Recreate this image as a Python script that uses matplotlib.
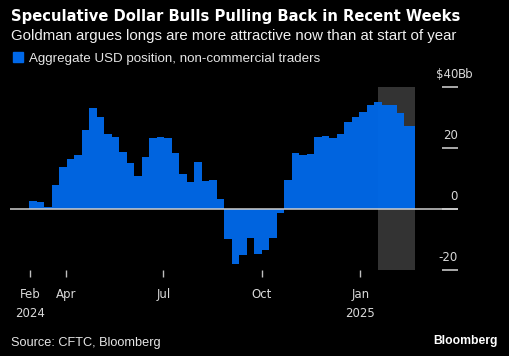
import matplotlib
matplotlib.use("Agg")
import matplotlib.pyplot as plt
import matplotlib.transforms as mtransforms
import pandas as pd

# ---------------- data ----------------
title = "Speculative Dollar Bulls Pulling Back in Recent Weeks"
subtitle = "Goldman argues longs are more attractive now than at start of year"
legend_label = "Aggregate USD position, non-commercial traders"
source_text = "Source: CFTC, Bloomberg"
brand_text = "Bloomberg"

week_start = "2024-02-27"
series_end = "2025-02-21"
usd_position = [2.6, 2.4, 0.7, 7.8, 13.9, 16.3, 17.8, 25.9, 33.0, 30.1,
                24.7, 23.7, 18.7, 15.1, 10.8, 17.2, 23.4, 23.6, 23.2, 18.3,
                11.6, 8.9, 15.3, 9.1, 9.4, 3.4, -9.8, -18.1, -15.1, -9.5,
                -14.8, -13.4, -9.4, -1.4, 9.5, 18.3, 17.7, 18.0, 23.6, 23.8,
                23.3, 24.6, 28.4, 30.2, 31.8, 34.1, 35.0, 34.1, 34.0, 31.6,
                27.2]
shade_start = "2025-01-17"
shade_end = "2025-02-21"

x_tick_dates = ["2024-02-28", "2024-04-01", "2024-07-01", "2024-10-01", "2025-01-01"]
x_tick_labels = ["Feb\n2024", "Apr", "Jul", "Oct", "Jan\n2025"]
y_ticks = [-20, 0, 20, 40]
y_tick_labels = ["-20", "0", "20", "$40"]
y_unit = "Bb"
x_range = ["2024-02-09", "2025-04-02"]

# ---------------- style ----------------
W, H = 510, 356
BG = "#000000"
BLUE = "#0068E8"
SHADE = "#333333"
TEXT = "#ffffff"
TICKTXT = "#d9d9d9"

fig = plt.figure(figsize=(W / 100, H / 100), dpi=100, facecolor=BG)

def fx(x):
    return x / W

def fy(y):
    return 1 - y / H

ax_left, ax_right, ax_top, ax_bottom = 10, 458, 87, 270
ax = fig.add_axes([fx(ax_left), fy(ax_bottom), (ax_right - ax_left) / W,
                   (ax_bottom - ax_top) / H])
ax.set_facecolor(BG)

dates = list(pd.date_range(week_start, periods=len(usd_position), freq="7D"))
edges = dates + [pd.Timestamp(series_end)]
vals = usd_position + [usd_position[-1]]

ax.axvspan(pd.Timestamp(shade_start), pd.Timestamp(shade_end), color=SHADE,
           zorder=1, lw=0)
ax.fill_between(edges, vals, 0, step="post", color=BLUE, lw=0, zorder=2,
                alpha=0.97)
ax.axhline(0, color="#cfcfcf", lw=1.1, zorder=3)

ax.set_xlim(pd.Timestamp(x_range[0]), pd.Timestamp(x_range[1]))
ax.set_ylim(y_ticks[0], y_ticks[-1])
for s in ax.spines.values():
    s.set_visible(False)

# x ticks
ax.set_xticks([pd.Timestamp(d) for d in x_tick_dates])
ax.set_xticklabels(x_tick_labels, color=TICKTXT, fontsize=8.5,
                   family="DejaVu Sans", linespacing=1.55)
ax.tick_params(axis="x", direction="out", length=5, width=1, color="#bfbfbf",
               pad=8)

# y ticks (right, inward, labels above the tick)
ax.yaxis.tick_right()
ax.set_yticks(y_ticks)
ax.set_yticklabels([])
ax.tick_params(axis="y", direction="in", length=11.5, width=1.4,
               color="#aaaaaa", right=True, left=False)
trans = mtransforms.blended_transform_factory(ax.transAxes, ax.transData)
offset = mtransforms.ScaledTranslation(0, 9 / 100, fig.dpi_scale_trans)
for v, lab in zip(y_ticks, y_tick_labels):
    ax.text(1.0, v, lab, transform=trans + offset, ha="right", va="baseline",
            color=TICKTXT, fontsize=8.5, family="DejaVu Sans")
ax.text(1.0, y_ticks[-1], y_unit, transform=trans + offset, ha="left",
        va="baseline", color=TICKTXT, fontsize=8.5, family="DejaVu Sans")

# ---------------- header / footer ----------------
renderer = fig.canvas.get_renderer()

def fit_text(x, y, s, target_w, size, **kw):
    t = fig.text(fx(x), fy(y), s, va="baseline", size=size, **kw)
    w = t.get_window_extent(renderer).width
    t.set_fontsize(size * target_w / w)
    return t

fit_text(11, 21, title, 448, 11, color=TEXT, family="DejaVu Sans",
         weight="bold")
fit_text(11, 40, subtitle, 448, 10, color="#f0f0f0", family="Liberation Sans")
fig.patches.append(plt.Rectangle((fx(13), fy(62)), 10 / W, 10 / H,
                                 transform=fig.transFigure, color=BLUE,
                                 figure=fig))
fit_text(29, 62, legend_label, 294, 9, color="#e6e6e6", family="Liberation Sans")
fit_text(11, 346, source_text, 150, 9, color="#e6e6e6", family="Liberation Sans")
fit_text(433, 344, brand_text, 64, 9, color=TEXT, family="Liberation Sans",
         weight="bold")

fig.savefig("out.png", dpi=100, facecolor=BG)
